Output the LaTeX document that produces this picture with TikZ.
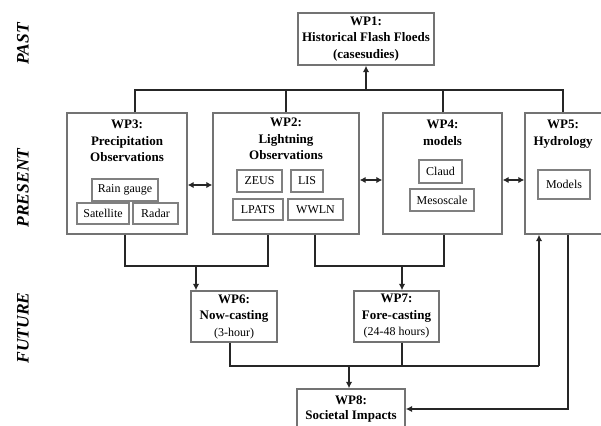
\documentclass[tikz,border=0pt]{standalone}
\usepackage{fontspec}
\setmainfont{Liberation Serif}
\usetikzlibrary{arrows.meta}

\begin{document}
\begin{tikzpicture}[x=1pt, y=-1pt,
  wpbox/.style={draw=black!55, line width=1.4pt, inner sep=0pt, align=center,
    font=\fontsize{13}{16.5}\selectfont},
  wptitle/.style={font=\fontsize{13}{16.5}\selectfont\bfseries, align=center, inner sep=0pt},
  subbox/.style={draw=black!50, line width=1.3pt, inner sep=0pt, font=\fontsize{12}{14}\selectfont},
  side/.style={rotate=90, inner sep=0pt, font=\fontsize{17.5}{20}\selectfont\bfseries\itshape},
  conn/.style={draw=black!85, line width=2pt},
  arr/.style={conn, -{Latex[length=6.5pt,width=6.5pt]}},
  dbl/.style={conn, {Latex[length=6pt,width=6.5pt]}-{Latex[length=6pt,width=6.5pt]}}]
% Set the size of the figure
\useasboundingbox (0,0) rectangle (601,425);
\clip (0,0) rectangle (601,425);

% Time axis on the left
\node[side] (past) at (23,44) {PAST};
\node[side] (present) at (23,188) {PRESENT};
\node[side] (future) at (23,328) {FUTURE};

% Work packages
\node[wpbox, minimum width=136, minimum height=52, font=\fontsize{13}{16.5}\selectfont\bfseries] (wp1) at (366,39) {WP1:\\Historical Flash Floeds\\(casesudies)};
\node[wpbox, minimum width=120, minimum height=121] (wp3) at (127,173.5) {};
\node[wpbox, minimum width=146, minimum height=121] (wp2) at (286,173.5) {};
\node[wpbox, minimum width=119, minimum height=121] (wp4) at (442.5,173.5) {};
\node[wpbox, minimum width=84, minimum height=121] (wp5) at (567,173.5) {};
\node[wpbox, minimum width=86, minimum height=51] (wp6) at (234,316.5) {\textbf{WP6:}\\\textbf{Now-casting}\\{\fontsize{12}{16.5}\selectfont(3-hour)}};
\node[wpbox, minimum width=85, minimum height=51] (wp7) at (396.5,316.5) {\textbf{WP7:}\\\textbf{Fore-casting}\\{\fontsize{12}{16.5}\selectfont(24-48 hours)}};
\node[wpbox, minimum width=108, minimum height=40, font=\fontsize{13}{14.5}\selectfont\bfseries] (wp8) at (351,409) {WP8:\\Societal Impacts};

% Titles of the present row
\node[wptitle, anchor=north] (wp3t) at (127,120) {WP3:\\Precipitation\\Observations};
\node[wptitle, anchor=north] (wp2t) at (286,118) {WP2:\\Lightning\\Observations};
\node[wptitle, anchor=north] (wp4t) at (442.5,120) {WP4:\\models};
\node[wptitle, anchor=north] (wp5t) at (563,120) {WP5:\\Hydrology};

% Inner boxes
\node[subbox, minimum width=66, minimum height=22] (rain) at (125,190) {Rain gauge};
\node[subbox, minimum width=52, minimum height=21] (sat) at (103,213.5) {Satellite};
\node[subbox, minimum width=45, minimum height=21] (radar) at (155.5,213.5) {Radar};
\node[subbox, minimum width=45, minimum height=22] (zeus) at (259.5,181) {ZEUS};
\node[subbox, minimum width=32, minimum height=22] (lis) at (307,181) {LIS};
\node[subbox, minimum width=50, minimum height=21] (lpats) at (258,209.5) {LPATS};
\node[subbox, minimum width=55, minimum height=21] (wwln) at (315.5,209.5) {WWLN};
\node[subbox, minimum width=43, minimum height=23] (claud) at (440.5,171.5) {Claud};
\node[subbox, minimum width=64, minimum height=22] (meso) at (442,200) {Mesoscale};
\node[subbox, minimum width=52, minimum height=29] (models) at (564,184.5) {Models};

% Junction points
\coordinate (j3) at (135,90);
\coordinate (j5) at (563,90);
\coordinate (a3) at (125,266);
\coordinate (a2) at (268,266);
\coordinate (j6) at (196,266);
\coordinate (b2) at (315,266);
\coordinate (b4) at (444,266);
\coordinate (j7) at (402,266);
\coordinate (c6) at (230,366);
\coordinate (c5) at (539,366);
\coordinate (j8) at (349,366);
\coordinate (d5) at (568,409);

% Past to present
\draw[conn] (j3 |- wp3.north) -- (j3) -- (j5) -- (j5 |- wp5.north);
\draw[conn] (wp2.north) -- (wp2.north |- j3);
\draw[conn] (wp4.north) -- (wp4.north |- j3);
\draw[arr] (wp1.south |- j3) -- (wp1.south);

% Links inside the present row
\draw[dbl] ([yshift=-11.5pt]wp3.east) -- ([yshift=-11.5pt]wp3.east -| wp2.west);
\draw[dbl] ([yshift=-6.5pt]wp2.east) -- ([yshift=-6.5pt]wp2.east -| wp4.west);
\draw[dbl] ([yshift=-6.5pt]wp4.east) -- ([yshift=-6.5pt]wp4.east -| wp5.west);

% Present to future
\draw[conn] (a3 |- wp3.south) -- (a3) -- (a2) -- (a2 |- wp2.south);
\draw[arr] (j6) -- (j6 |- wp6.north);
\draw[conn] (b2 |- wp2.south) -- (b2) -- (b4) -- (b4 |- wp4.south);
\draw[arr] (j7) -- (j7 |- wp7.north);

% Future to impacts
\draw[conn] (c6 |- wp6.south) -- (c6) -- (c5);
\draw[conn] (j7 |- wp7.south) -- (j7 |- c5);
\draw[arr] (c5) -- (c5 |- wp5.south);
\draw[arr] (j8) -- (j8 |- wp8.north);
\draw[arr] (d5 |- wp5.south) -- (d5) -- (wp8.east |- d5);
\end{tikzpicture}
\end{document}
